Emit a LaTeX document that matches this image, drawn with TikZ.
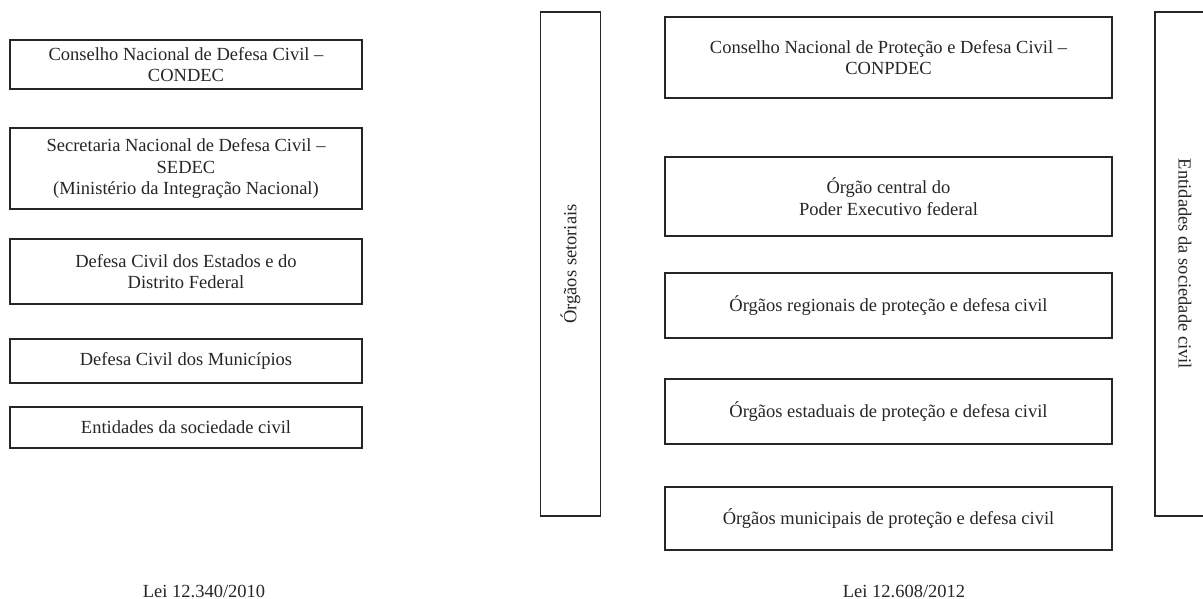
\documentclass[tikz,border=0pt]{standalone}
\usepackage{fontspec}
\setmainfont{Liberation Serif}
\begin{document}
\begin{tikzpicture}[x=1pt,y=-1pt,
  box/.style={draw=black!85, line width=1.1pt, align=center, inner sep=0pt, text=black!85,
    font=\fontsize{18.5}{21.5}\selectfont},
  lbox/.style={box, minimum width=352pt},
  rbox/.style={box, minimum width=447pt},
  tall/.style={box, minimum width=504pt, minimum height=60pt},
  leilabel/.style={text=black!85, font=\fontsize{18.5}{21.5}\selectfont, inner sep=0pt}]
\useasboundingbox (0,0) rectangle (1203,599);
\clip (0,0) rectangle (1203,599);
% left column (Lei 12.340/2010)
\node[lbox, minimum height=49pt] (l1) at (186,64.5) {Conselho Nacional de Defesa Civil --\\CONDEC};
\node[lbox, minimum height=81pt] (l2) at (186,168.5) {Secretaria Nacional de Defesa Civil --\\SEDEC\\(Ministério da Integração Nacional)};
\node[lbox, minimum height=65pt] (l3) at (186,271.5) {Defesa Civil dos Estados e do\\Distrito Federal};
\node[lbox, minimum height=44pt] (l4) at (186,361) {Defesa Civil dos Municípios};
\node[lbox, minimum height=41pt] (l5) at (186,427.5) {Entidades da sociedade civil};
\node[leilabel] (lei1) at (204,591) {Lei 12.340/2010};
% right column (Lei 12.608/2012)
\node[tall, rotate=90] (set) at (570.5,264) {Órgãos setoriais};
\node[rbox, minimum height=81pt] (r1) at (888.5,57.5) {Conselho Nacional de Proteção e Defesa Civil --\\CONPDEC};
\node[rbox, minimum height=79pt] (r2) at (888.5,196.5) {Órgão central do\\Poder Executivo federal};
\node[rbox, minimum height=65pt] (r3) at (888.5,305.5) {Órgãos regionais de proteção e defesa civil};
\node[rbox, minimum height=65pt] (r4) at (888.5,411.5) {Órgãos estaduais de proteção e defesa civil};
\node[rbox, minimum height=63pt] (r5) at (888.5,518.5) {Órgãos municipais de proteção e defesa civil};
\node[tall, rotate=-90] (soc) at (1185,264) {Entidades da sociedade civil};
\node[leilabel] (lei2) at (904,591) {Lei 12.608/2012};
\end{tikzpicture}
\end{document}
